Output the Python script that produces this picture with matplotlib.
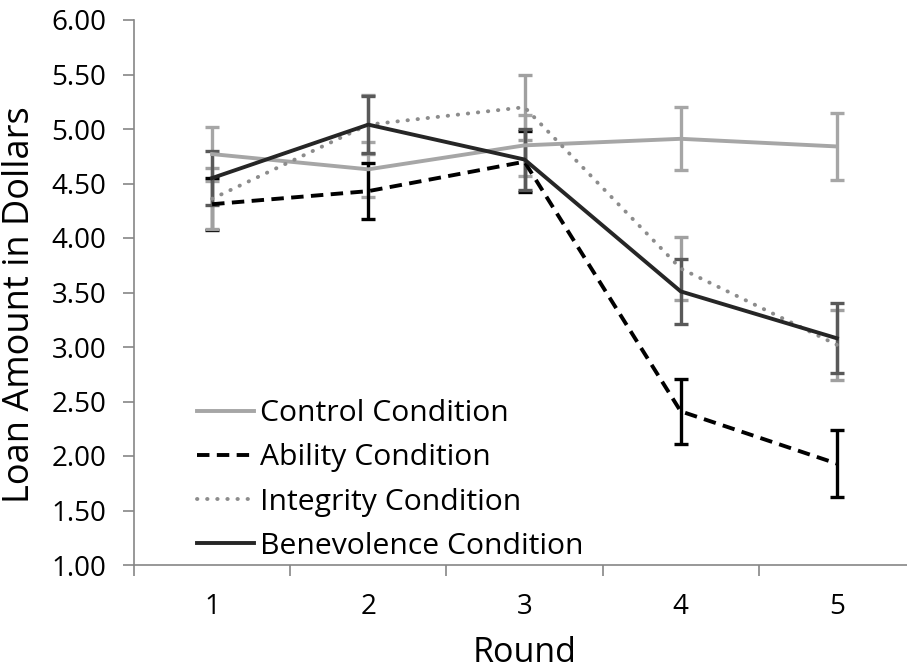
import matplotlib
matplotlib.use("Agg")
import matplotlib.pyplot as plt

plt.rcParams['font.family'] = ['Open Sans', 'DejaVu Sans']

rounds = [1, 2, 3, 4, 5]
conditions = ["Control Condition", "Ability Condition",
              "Integrity Condition", "Benevolence Condition"]

control = [4.77, 4.63, 4.85, 4.91, 4.84]
control_err = [0.25, 0.25, 0.28, 0.29, 0.31]
ability = [4.31, 4.43, 4.70, 2.41, 1.93]
ability_err = [0.24, 0.26, 0.28, 0.30, 0.31]
integrity = [4.36, 5.04, 5.20, 3.72, 3.02]
integrity_err = [0.28, 0.27, 0.30, 0.29, 0.32]
benevolence = [4.55, 5.04, 4.72, 3.51, 3.08]
benevolence_err = [0.25, 0.26, 0.28, 0.30, 0.32]

fig = plt.figure(figsize=(9.07, 6.72), dpi=100)
ax = fig.add_axes([134/907, 107/672, 781/907, 545/672])

styles = [
    dict(color='#a6a6a6', ecolor='#a6a6a6', ls='-', lw=2.8),
    dict(color='#000000', ecolor='#000000', ls=(0, (3.2, 1.9)), lw=2.8),
    dict(color='#8c8c8c', ecolor='#a0a0a0', ls=(0, (0.1, 2.5)), lw=2.8),
    dict(color='#262626', ecolor='#595959', ls='-', lw=2.8),
]
series = [(control, control_err), (ability, ability_err),
          (integrity, integrity_err), (benevolence, benevolence_err)]

handles = []
for (vals, errs), name, st in zip(series, conditions, styles):
    eb = ax.errorbar(rounds, vals, yerr=errs, color=st['color'],
                     ecolor=st['ecolor'], elinewidth=2.4, capsize=5,
                     capthick=2.4, lw=st['lw'], ls=st['ls'],
                     dash_capstyle='round' if name.startswith('Integrity') else 'butt',
                     label=name)
    handles.append(eb)

ax.set_xlim(0.5, 5.5)
ax.set_ylim(1.0, 6.0)
ax.set_yticks([1.0 + 0.5 * i for i in range(11)])
ax.set_yticklabels([f"{1.0 + 0.5 * i:.2f}" for i in range(11)])
ax.set_xticks(rounds)
ax.set_xticks([0.5, 1.5, 2.5, 3.5, 4.5], minor=True)
ax.tick_params(axis='x', which='major', length=0, labelsize=20, pad=20)
ax.tick_params(axis='x', which='minor', length=8, color='#868686', width=1.2)
ax.tick_params(axis='y', length=8, color='#868686', width=1.2, labelsize=20,
               direction='out', pad=12)

for side in ['top', 'right']:
    ax.spines[side].set_visible(False)
for side in ['left', 'bottom']:
    ax.spines[side].set_color('#868686')
    ax.spines[side].set_linewidth(1.2)

ax.set_xlabel("Round", fontsize=24.5, labelpad=11)
ax.set_ylabel("Loan Amount in Dollars", fontsize=26)
ax.yaxis.set_label_coords(-0.123, 0.477)

leg = ax.legend(handles=[h.lines[0] for h in handles], labels=conditions,
                loc='lower left', bbox_to_anchor=(0.065, -0.014),
                frameon=False, fontsize=21.7, handlelength=1.9,
                handletextpad=0.2, labelspacing=0.5, borderaxespad=0)

fig.savefig("out.png", dpi=100)
